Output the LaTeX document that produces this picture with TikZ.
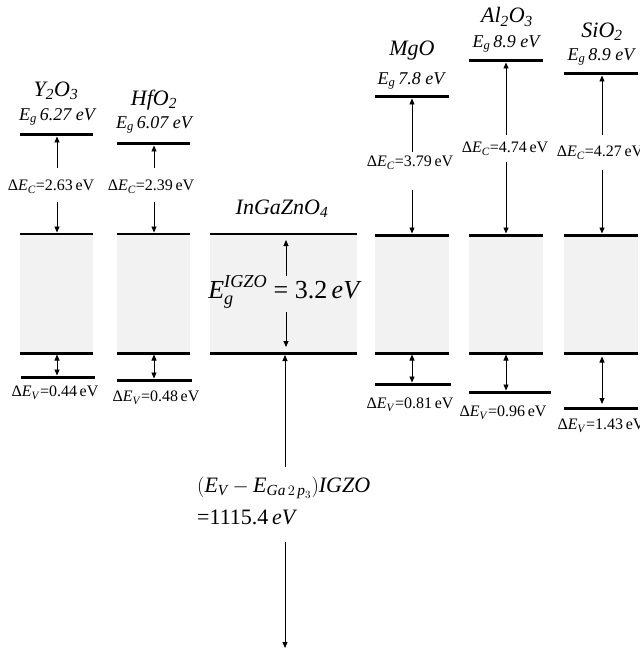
\documentclass[tikz,border=0pt]{standalone}
\usepackage{amsmath}
\usepackage{fontspec}
\setmainfont{Liberation Serif}
\usetikzlibrary{arrows.meta}
\definecolor{bandgray}{RGB}{242,242,242}
\tikzset{
 thickline/.style={line width=3pt},
 thinline/.style={line width=1.2pt},
 arr/.style={line width=0.9pt,-{Triangle[length=6pt,width=5pt]}},
 darr/.style={line width=0.9pt,{Triangle[length=6pt,width=5pt]}-{Triangle[length=6pt,width=5pt]}},
 band/.style={fill=bandgray,draw=none},
 title/.style={font=\fontsize{22}{24}\selectfont\itshape, inner sep=0pt},
 eglab/.style={font=\fontsize{18}{20}\selectfont\itshape, inner sep=0pt},
 delab/.style={font=\fontsize{16}{18}\selectfont, inner sep=0pt},
 biglab/.style={font=\fontsize{22}{24}\selectfont, inner sep=0pt, anchor=base west},
}
\newcommand{\dEC}[1]{Δ\textit{E}\textsubscript{\textit{C}}=#1\,eV}
\newcommand{\dEV}[1]{Δ\textit{E}\textsubscript{\textit{V}}=#1\,eV}
\newcommand{\Egl}[1]{\textit{E}\textsubscript{\textit{g}}\,#1 eV}
\begin{document}
\begin{tikzpicture}[x=1pt,y=-1pt]
\useasboundingbox (0,0) rectangle (639,655);
% bands
\foreach \a/\b in {20/93,117/190,210/357,375/449,469/543,564/638}{
  \fill[band] (\a,234) rectangle (\b,353);
  \draw[thickline] (\a,353) -- (\b,353);
}
\foreach \a/\b in {20/93,117/190,210/357}{\draw[thinline] (\a,234) -- (\b,234);}
\foreach \a/\b in {375/449,469/543,564/638}{\draw[thickline] (\a,235) -- (\b,235);}
% CB top lines
\draw[thickline] (20,135) -- (93,135);
\draw[thickline] (117,144) -- (190,144);
\draw[thickline] (375,97) -- (449,97);
\draw[thickline] (469,61) -- (543,61);
\draw[thickline] (564,74) -- (638,74);
% VB lower lines
\draw[thickline] (21,377) -- (95,377);
\draw[thickline] (117,380) -- (192,380);
\draw[thickline] (375,384) -- (451,384);
\draw[thickline] (469,392) -- (551,392);
\draw[thickline] (564,408) -- (638,408);

% titles
\node[title] (ty) at (56,91) {Y\textsubscript{2}O\textsubscript{3}};
\node[eglab] (ey) at (57,117) {\Egl{6.27}};
\node[title] (th) at (154,100) {HfO\textsubscript{2}};
\node[eglab] (eh) at (154,125) {\Egl{6.07}};
\node[title] (tm) at (412,51) {MgO};
\node[eglab] (em) at (411,81) {\Egl{7.8}};
\node[title] (ta) at (507,17) {Al\textsubscript{2}O\textsubscript{3}};
\node[eglab] (ea) at (506,44) {\Egl{8.9}};
\node[title] (ts) at (602,32) {SiO\textsubscript{2}};
\node[eglab] (es) at (601,57) {\Egl{8.9}};
\node[title] (ti) at (282,209) {InGaZnO\textsubscript{4}};

% Delta E_C labels
\node[delab] (cy) at (51,187) {\dEC{2.63}};
\node[delab] (ch) at (151,187) {\dEC{2.39}};
\node[delab] (cm) at (410,163) {\dEC{3.79}};
\node[delab] (ca) at (505,149) {\dEC{4.74}};
\node[delab] (cs) at (600,153) {\dEC{4.27}};
% Delta E_V labels
\node[delab] (vy) at (55,393) {\dEV{0.44}};
\node[delab] (vh) at (156,398) {\dEV{0.48}};
\node[delab] (vm) at (410,405) {\dEV{0.81}};
\node[delab] (va) at (503,413) {\dEV{0.96}};
\node[delab] (vs) at (601,426) {\dEV{1.43}};

% arrow end coordinates
\coordinate (y1) at (57,168); \coordinate (y2) at (57,136.5);
\coordinate (y3) at (57,202); \coordinate (y4) at (57,232.5);
\coordinate (h1) at (154,168); \coordinate (h2) at (154,145.5);
\coordinate (h3) at (154,202); \coordinate (h4) at (154,232.5);
\coordinate (m1) at (412,152); \coordinate (m2) at (412,98.5);
\coordinate (m3) at (412,190); \coordinate (m4) at (412,233.5);
\coordinate (a1) at (506,135); \coordinate (a2) at (506,62.5);
\coordinate (a3) at (506,162); \coordinate (a4) at (506,233.5);
\coordinate (s1) at (602,135); \coordinate (s2) at (602,75.5);
\coordinate (s3) at (602,170); \coordinate (s4) at (602,233.5);
\foreach \c in {y,h,m,a,s}{
  \draw[arr] (\c1) -- (\c2);
  \draw[arr] (\c3) -- (\c4);
}
% VB arrows
\coordinate (yv1) at (57,354.5); \coordinate (yv2) at (57,375.5);
\coordinate (hv1) at (154,354.5); \coordinate (hv2) at (154,378.5);
\coordinate (mv1) at (412,354.5); \coordinate (mv2) at (412,382.5);
\coordinate (av1) at (506,354.5); \coordinate (av2) at (506,390.5);
\coordinate (sv1) at (602,356.5); \coordinate (sv2) at (602,404);
\foreach \c in {y,h,m,a,s}{\draw[darr] (\c v1) -- (\c v2);}

% IGZO gap
\node[inner sep=0pt,font=\fontsize{26}{28}\selectfont] (ig) at (285,292)
  {$\textit{E}_{\textit{g}}^{\textit{IGZO}}$ = 3.2\,\textit{eV}};
\coordinate (i1) at (286,276); \coordinate (i2) at (286,240);
\coordinate (i3) at (286,312); \coordinate (i4) at (286,347);
\draw[arr] (i1) -- (i2);
\draw[arr] (i3) -- (i4);

% core level
\node[biglab] (b1) at (197,492)
  {$(\textit{E}_{\textit{V}}-\textit{E}_{\textit{Ga}\,2\,\textit{p}_{3}})$\textit{IGZO}};
\node[biglab] (b2) at (197,524) {=1115.4\,\textit{eV}};
\coordinate (k1) at (285,467); \coordinate (k2) at (285,355);
\coordinate (k3) at (285,542); \coordinate (k4) at (285,648);
\draw[arr] (k1) -- (k2);
\draw[arr] (k3) -- (k4);
\end{tikzpicture}
\end{document}
